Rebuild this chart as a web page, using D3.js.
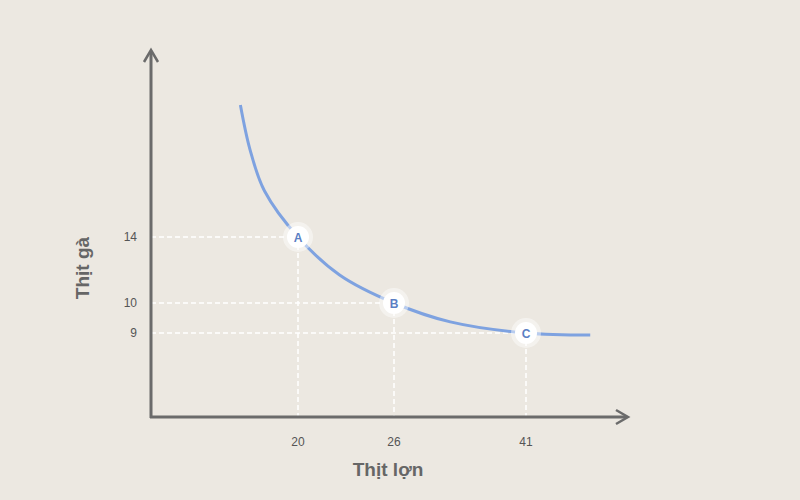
<!DOCTYPE html><html><head><meta charset="utf-8"><script src="https://cdn.jsdelivr.net/npm/d3@7"></script>
<style>body{margin:0;background:#ece8e1}</style></head><body><svg id="c" width="800" height="500"></svg>
<script>
const xTicks=[20,26,41];
const yTicks=[9,10,14];
const pointLabels=["A","B","C"];
const pointX=[20,26,41];
const pointY=[14,10,9];
const curveX=[16.4,17,17.9,20,22.6,26,32.4,41,48.3];
const curveY=[22,19.3,16.8,14,11.7,10,9.37,9,8.93];

const svg=d3.select("#c");
svg.append("rect").attr("width",800).attr("height",500).attr("fill","#ece8e1");
const x=d3.scaleLinear().domain([20,26,41]).range([298,394,526]);
const y=d3.scaleLinear().domain([9,10,14]).range([333,303,237]);
const x0=151,y0=417;
const ax="#6b6b6b";
// dashed guides
pointX.forEach((v,i)=>{
 svg.append("line").attr("x1",x0).attr("x2",x(v)).attr("y1",y(pointY[i])).attr("y2",y(pointY[i])).attr("stroke","#fff").attr("stroke-width",1.5).attr("stroke-dasharray","5,3");
 svg.append("line").attr("x1",x(v)).attr("x2",x(v)).attr("y1",y(pointY[i])).attr("y2",y0).attr("stroke","#fff").attr("stroke-width",1.5).attr("stroke-dasharray","5,3");
});
// axes
svg.append("line").attr("x1",x0).attr("x2",x0).attr("y1",y0+1).attr("y2",52).attr("stroke",ax).attr("stroke-width",3);
svg.append("path").attr("d",`M${x0-7},62 L${x0},50 L${x0+7},62`).attr("fill","none").attr("stroke",ax).attr("stroke-width",2.5);
svg.append("line").attr("x1",x0-1).attr("x2",626).attr("y1",y0).attr("y2",y0).attr("stroke",ax).attr("stroke-width",3);
svg.append("path").attr("d",`M616,${y0-7} L628,${y0} L616,${y0+7}`).attr("fill","none").attr("stroke",ax).attr("stroke-width",2.5);
// curve
svg.append("path").datum(curveX.map((v,i)=>[v,curveY[i]]))
 .attr("d",d3.line().x(d=>x(d[0])).y(d=>y(d[1])).curve(d3.curveCatmullRom))
 .attr("fill","none").attr("stroke","#7ea2e0").attr("stroke-width",3);
// points
pointX.forEach((v,i)=>{
 svg.append("circle").attr("cx",x(v)).attr("cy",y(pointY[i])).attr("r",15).attr("fill","#fff").attr("opacity",0.45);
 svg.append("circle").attr("cx",x(v)).attr("cy",y(pointY[i])).attr("r",11).attr("fill","#fff");
 svg.append("text").attr("x",x(v)).attr("y",y(pointY[i])+4.5).attr("text-anchor","middle").attr("font-family","Arial, Liberation Sans").attr("font-size",12).attr("font-weight","bold").attr("fill","#5b7fc4").text(pointLabels[i]);
});
// tick labels
xTicks.forEach(v=>svg.append("text").attr("x",x(v)).attr("y",446).attr("text-anchor","middle").attr("font-family","Liberation Sans").attr("font-size",12).attr("fill","#555").text(v));
yTicks.forEach(v=>svg.append("text").attr("x",137).attr("y",y(v)+4).attr("text-anchor","end").attr("font-family","Liberation Sans").attr("font-size",12).attr("fill","#555").text(v));
svg.append("text").attr("x",388).attr("y",476).attr("text-anchor","middle").attr("font-family","Liberation Sans").attr("font-size",19).attr("font-weight","bold").attr("fill","#666").text("Thịt lợn");
svg.append("text").attr("transform","translate(89,268) rotate(-90)").attr("text-anchor","middle").attr("font-family","Liberation Sans").attr("font-size",19).attr("font-weight","bold").attr("fill","#666").text("Thịt gà");
</script></body></html>
